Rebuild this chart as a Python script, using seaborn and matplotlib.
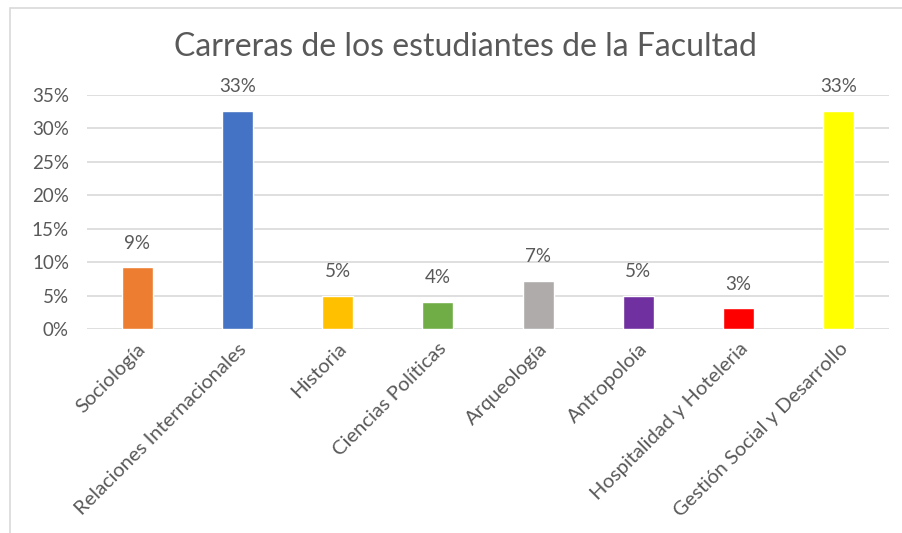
import pandas as pd
import matplotlib.pyplot as plt
import seaborn as sns
from matplotlib.patches import Rectangle
from matplotlib.ticker import PercentFormatter

# Datos del gráfico
carreras = ["Sociología", "Relaciones Internacionales", "Historia", "Ciencias Políticas",
            "Arqueología", "Antropoloía", "Hospitalidad y Hoteleria", "Gestión Social y Desarrollo"]
porcentajes = [0.092, 0.326, 0.050, 0.041, 0.072, 0.050, 0.031, 0.326]
colores = ["#ED7D31", "#4472C4", "#FFC000", "#70AD47", "#AFABAB", "#7030A0", "#FF0000", "#FFFF00"]

df = pd.DataFrame({"Carrera": carreras, "Porcentaje": porcentajes})

sns.set_style("white")
plt.rcParams['font.family'] = ['Lato', 'DejaVu Sans']
gris = "#595959"

fig = plt.figure(figsize=(9.03, 5.33), dpi=100)
ax = fig.add_axes([87 / 903, 1 - 329 / 533, (889 - 87) / 903, (329 - 95) / 533])

sns.barplot(data=df, x="Carrera", y="Porcentaje", hue="Carrera", palette=colores,
            saturation=1, width=0.31, legend=False, ax=ax, zorder=3)

ax.set_ylim(0, 0.35)
ax.set_yticks([i * 0.05 for i in range(8)])
ax.yaxis.set_major_formatter(PercentFormatter(1.0, decimals=0))
ax.grid(axis="y", color="#D9D9D9", linewidth=1.2, zorder=0)
for s in ax.spines.values():
    s.set_visible(False)
ax.set_xlabel("")
ax.set_ylabel("")
ax.tick_params(axis="y", length=0, labelsize=13.5, labelcolor=gris, pad=13)
ax.tick_params(axis="x", length=0, labelsize=14.5, labelcolor=gris, pad=8)
plt.setp(ax.get_xticklabels(), rotation=45, ha="right", rotation_mode="anchor")

# Etiquetas de datos
for i, v in enumerate(porcentajes):
    ax.text(i, v + 0.036, f"{v:.0%}", ha="center", va="center", fontsize=13.5, color=gris)

fig.text(465 / 903, 1 - 47 / 533, "Carreras de los estudiantes de la Facultad",
         ha="center", va="center", fontsize=23, color=gris)

# Borde del área del gráfico
fig.patches.append(Rectangle((10 / 903, -0.1), 1.2, 1 - 8 / 533 + 0.1, transform=fig.transFigure,
                             fill=False, edgecolor="#D9D9D9", linewidth=1.2))

fig.savefig("out.png", dpi=100)
